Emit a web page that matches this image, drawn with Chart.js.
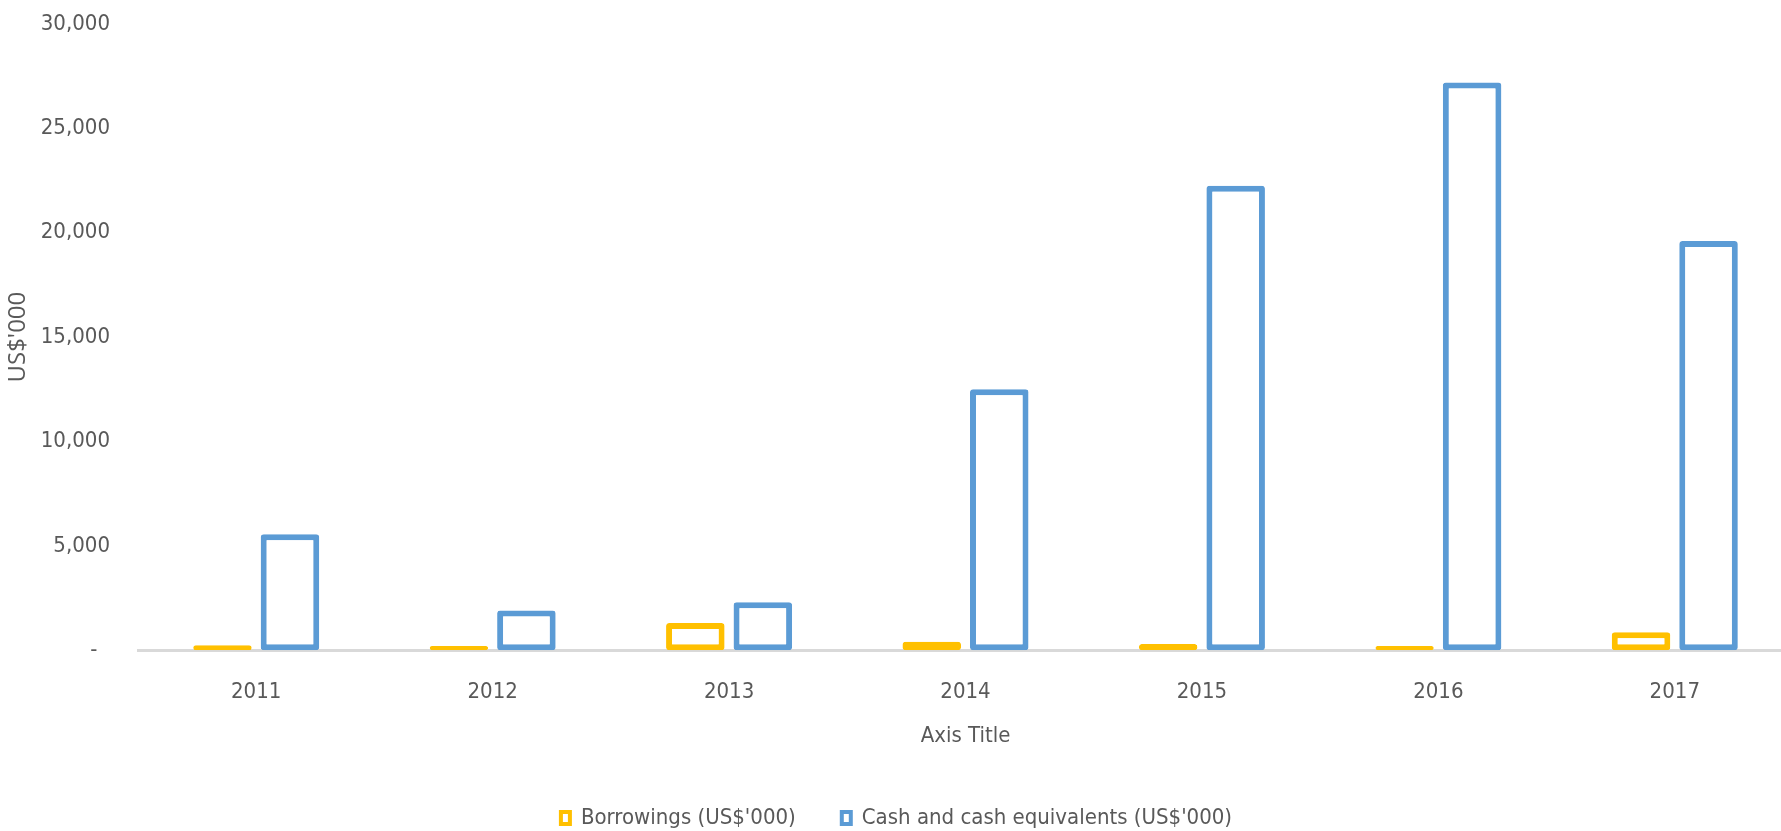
<!DOCTYPE html>
<html>
<head>
<meta charset="utf-8">
<title>Borrowings vs cash</title>
<script src="https://cdn.jsdelivr.net/npm/chart.js@4/dist/chart.umd.min.js"></script>
<style>
  html, body { margin: 0; padding: 0; background: #fff; overflow: hidden; }
  #wrap { width: 1793px; height: 839px; }
</style>
</head>
<body>
<div id="wrap"><canvas id="finChart" width="1793" height="839"></canvas></div>
<script>
// Values in US$'000
const years       = ['2011', '2012', '2013', '2014', '2015', '2016', '2017'];
const borrowings  = [240, 200, 1300, 400, 300, 200, 860];
const cashEquiv   = [5550, 1900, 2300, 12500, 22250, 27200, 19600];
const yTicks      = [0, 5000, 10000, 15000, 20000, 25000, 30000];

const FONT  = '"Liberation Sans Narrow", "DejaVu Sans Condensed", "Liberation Sans", sans-serif';
const GREY  = '#595959';
const AMBER = '#FFC000';
const BLUE  = '#5B9BD5';

Chart.defaults.font.family = FONT;
Chart.defaults.font.size = 22;
Chart.defaults.color = GREY;

function barSet(label, data, color) {
  return {
    label,
    data,
    backgroundColor: '#ffffff',
    borderColor: color,
    borderWidth: 6,
    borderRadius: 3,
    borderSkipped: false,
    categoryPercentage: 0.571,
    barPercentage: 0.867,
  };
}

new Chart(document.getElementById('finChart'), {
  type: 'bar',
  data: {
    labels: years,
    datasets: [
      barSet("Borrowings (US$'000)", borrowings, AMBER),
      barSet("Cash and cash equivalents (US$'000)", cashEquiv, BLUE),
    ]
  },
  options: {
    responsive: false,
    animation: false,
    devicePixelRatio: 1,
    layout: { padding: { top: 24, left: 0, right: 0, bottom: 0 } },
    plugins: {
      tooltip: { enabled: false },
      legend: {
        position: 'bottom',
        labels: {
          boxWidth: 9,
          boxHeight: 12,
          padding: 46,
          color: GREY,
          font: { size: 22 },
          generateLabels: chart =>
            Chart.defaults.plugins.legend.labels.generateLabels(chart)
              .map(l => ({ ...l, lineWidth: 4 })),
        }
      }
    },
    scales: {
      x: {
        grid: { display: false, drawTicks: false },
        border: { display: true, color: '#D9D9D9', width: 3 },
        ticks: { padding: 29, color: GREY },
        title: {
          display: true,
          text: 'Axis Title',
          color: GREY,
          font: { size: 22 },
          padding: { top: -12, bottom: 12 },
        }
      },
      y: {
        min: 0,
        max: 30000,
        afterBuildTicks: scale => { scale.ticks = yTicks.map(v => ({ value: v })); },
        afterFit: scale => {
          // fixed gutter; tick padding shouldn't push the plot down
          scale.width = 138;
          scale.paddingTop = 0;
          scale.paddingBottom = 0;
        },
        grid: { display: false, drawTicks: false },
        border: { display: false },
        ticks: {
          padding: 28,
          color: GREY,
          callback: v => v === 0 ? '-  ' : v.toLocaleString('en-US'),
        },
        title: {
          display: true,
          text: "US$'000",
          color: GREY,
          font: { family: '"Open Sans", sans-serif', size: 24 },
          padding: { top: 4, bottom: 0 },
        }
      }
    }
  }
});
</script>
</body>
</html>
